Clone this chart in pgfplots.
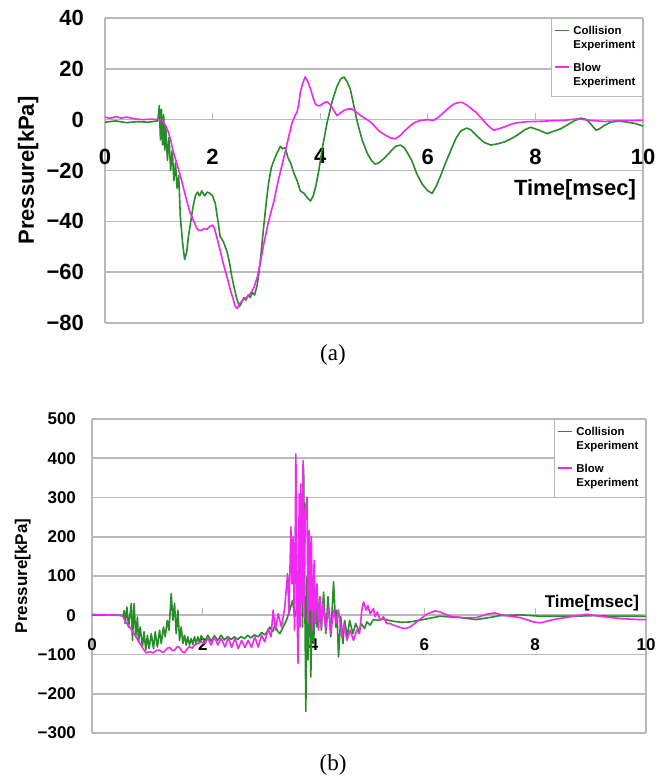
\documentclass[border=0pt]{standalone}
\usepackage{fontspec}
\setmainfont{Liberation Serif}
\newfontfamily\gsans{Liberation Sans}
\usepackage{pgfplots}
\pgfplotsset{compat=1.18}
\definecolor{colgreen}{RGB}{40,140,40}
\definecolor{colmag}{RGB}{240,40,240}
\definecolor{gridc}{RGB}{185,185,185}

% common look of both panels
\pgfplotsset{
  panel/.style={
    scale only axis,
    xmin=0, xmax=10,
    axis x line*=middle, axis y line*=box,
    hide obscured x ticks=false, hide obscured y ticks=false,
    axis line style={draw=gridc, line width=0.6pt},
    xtick={0,2,...,10}, xticklabels={0,2,4,6,8,10},
    ymajorgrids, grid style={draw=gridc, line width=0.8pt},
    tick align=inside, major tick length=3.5pt,
    xtick style={draw=gridc, line width=0.6pt}, ytick style={draw=none},
    legend style={at={(axis description cs:1,1)}, anchor=north east,
      draw=gridc, line width=0.5pt, fill=white,
      font=\gsans\bfseries\fontsize{5.7}{6.8}\selectfont,
      cells={align=left, anchor=west}, row sep=2pt,
      inner xsep=1.5pt, inner ysep=2pt},
    legend image code/.code={\draw[##1, line width=0.7pt] (0pt,4.3pt) -- (7pt,4.3pt);},
    every axis plot/.append style={line width=0.8pt, line join=round},
  },
}

\begin{document}
\begin{tikzpicture}
\fill[white] (0,0) rectangle (332.5pt,390pt);
\useasboundingbox (0,0) rectangle (332.5pt,390pt);

% ---------------- (a)
\begin{axis}[panel,
  at={(52.5pt,228.5pt)}, anchor=south west,
  width=269pt, height=152.5pt,
  ymin=-80, ymax=40,
  ytick={-80,-60,...,40}, yticklabels={−80,−60,−40,−20,0,20,40},
  tick label style={font=\gsans\bfseries\fontsize{11}{12}\selectfont},
  xticklabel style={yshift=-11pt},
  yticklabel style={xshift=-7pt},
  ylabel={Pressure[kPa]},
  ylabel style={at={(axis description cs:-0.143,0.5)}, anchor=center,
    font=\gsans\bfseries\fontsize{11}{12}\selectfont},
  xlabel={Time[msec]},
  xlabel style={at={(axis description cs:1,0.495)}, anchor=north east,
    font=\gsans\bfseries\fontsize{11}{12}\selectfont},
]
\addplot[colgreen] coordinates {
(0,-1) (0.2,-0.5) (0.4,-1.2) (0.6,-0.8) (0.8,-1) (0.98,-0.5) (1.01,5.5)
(1.03,-8) (1.05,4) (1.07,-10) (1.09,2) (1.11,-12) (1.13,-3) (1.16,-16)
(1.19,-7) (1.22,-20) (1.25,-12) (1.28,-24) (1.31,-17) (1.34,-27) (1.37,-22)
(1.40,-38) (1.44,-48) (1.48,-55) (1.52,-52) (1.55,-46) (1.58,-42) (1.63,-35)
(1.68,-30) (1.72,-28.5) (1.76,-30) (1.80,-28) (1.85,-30) (1.90,-28.5)
(1.95,-29) (2.0,-30) (2.05,-33) (2.10,-40) (2.14,-46) (2.20,-48) (2.27,-52)
(2.32,-57) (2.36,-62) (2.40,-66) (2.45,-70.5) (2.50,-73.5) (2.54,-72)
(2.58,-70) (2.62,-71) (2.66,-69) (2.70,-70) (2.74,-68) (2.78,-69) (2.83,-65)
(2.88,-57) (2.95,-42) (3.00,-32) (3.04,-25) (3.09,-19) (3.14,-16) (3.20,-13)
(3.26,-10.5) (3.30,-11.5) (3.35,-11) (3.40,-15) (3.45,-17) (3.51,-21)
(3.57,-24) (3.63,-28) (3.70,-29) (3.77,-31) (3.82,-32) (3.87,-30) (3.92,-26)
(3.97,-20.5) (4.05,-10) (4.13,-1) (4.22,7) (4.31,13) (4.38,16) (4.44,16.8)
(4.50,15) (4.56,12) (4.62,6) (4.69,-1) (4.78,-8) (4.87,-13) (4.95,-16)
(5.02,-17.5) (5.09,-17) (5.20,-15) (5.31,-12.5) (5.40,-10.5) (5.49,-10)
(5.56,-11) (5.62,-13) (5.70,-16) (5.80,-21.5) (5.90,-25.5) (6.00,-28)
(6.08,-29) (6.16,-26) (6.24,-22) (6.33,-17) (6.43,-12) (6.52,-7.5)
(6.61,-4.5) (6.72,-3.3) (6.80,-4) (6.93,-6.8) (7.05,-9) (7.17,-10)
(7.30,-9.5) (7.42,-8.8) (7.55,-7.5) (7.67,-6) (7.80,-4) (7.91,-3) (8.05,-4)
(8.22,-5.5) (8.35,-4.5) (8.47,-3.6) (8.60,-2) (8.72,-0.5) (8.84,0.6)
(8.93,0.2) (9.00,-1) (9.08,-3) (9.13,-4.2) (9.20,-3.5) (9.28,-2.3) (9.40,-1)
(9.55,-0.6) (9.71,-1) (9.85,-1.5) (10.0,-2.5)
};
\addlegendentry{Collision\\Experiment}
\addplot[colmag] coordinates {
(0,1) (0.1,0.5) (0.2,1.2) (0.3,0.6) (0.4,1) (0.55,0.3) (0.7,0) (0.85,0.2)
(1.0,0) (1.05,-0.3) (1.09,-1) (1.13,-2.5) (1.18,-5) (1.22,-8) (1.27,-12.7)
(1.33,-17) (1.40,-22) (1.46,-27) (1.52,-32) (1.58,-36.5) (1.65,-40)
(1.70,-42.5) (1.74,-43.6) (1.80,-43.5) (1.85,-42.8) (1.89,-43.2) (1.95,-42)
(2.00,-41.5) (2.03,-42.5) (2.08,-46.4) (2.14,-51.5) (2.20,-56.8) (2.27,-62)
(2.33,-67) (2.38,-70.5) (2.42,-73.5) (2.46,-74.3) (2.50,-72.5) (2.56,-71)
(2.63,-70) (2.70,-68.5) (2.77,-66) (2.83,-62) (2.89,-56) (2.95,-49)
(3.04,-40) (3.14,-32) (3.22,-24) (3.32,-15.3) (3.40,-8) (3.48,-1) (3.53,1.5)
(3.57,3) (3.60,6) (3.63,10.7) (3.67,14) (3.72,16.8) (3.77,15) (3.82,12)
(3.87,8.5) (3.91,6.2) (3.95,5.5) (4.00,5.5) (4.06,6.5) (4.13,7) (4.18,6)
(4.22,4.9) (4.27,3) (4.31,1.6) (4.37,2.5) (4.44,3.6) (4.52,4.2) (4.59,4.2)
(4.67,3) (4.75,1.6) (4.85,0.3) (4.94,-1) (5.03,-3) (5.12,-4.9) (5.22,-6.2)
(5.31,-7.2) (5.40,-7.5) (5.49,-6.2) (5.58,-4.2) (5.68,-2.3) (5.77,-1)
(5.87,-0.3) (6.00,0) (6.11,-0.3) (6.20,1) (6.30,2.9) (6.40,4.8) (6.49,6.2)
(6.58,6.8) (6.64,6.8) (6.72,5.8) (6.80,4.5) (6.90,2.8) (7.00,0.5)
(7.08,-1.5) (7.17,-3.3) (7.23,-4.2) (7.32,-3.6) (7.42,-2.9) (7.55,-1.8)
(7.67,-1.2) (7.85,-0.8) (8.04,-0.7) (8.25,-0.5) (8.53,-0.3) (8.78,0.3)
(9.03,-0.3) (9.28,-0.7) (9.50,-0.5) (9.75,-0.4) (10.0,-0.3)
};
\addlegendentry{Blow\\Experiment}
\end{axis}

% ---------------- (b)
\begin{axis}[panel,
  at={(46pt,23.5pt)}, anchor=south west,
  width=277pt, height=157pt,
  ymin=-300, ymax=500,
  ytick={-300,-200,...,500},
  yticklabels={−300,−200,−100,0,100,200,300,400,500},
  tick label style={font=\gsans\bfseries\fontsize{8.5}{10}\selectfont},
  xticklabel style={yshift=-8pt},
  yticklabel style={xshift=-4.5pt},
  ylabel={Pressure[kPa]},
  ylabel style={at={(axis description cs:-0.125,0.5)}, anchor=center,
    font=\gsans\bfseries\fontsize{8.5}{10}\selectfont},
  xlabel={Time[msec]},
  xlabel style={at={(axis description cs:1,0.462)}, anchor=north east,
    font=\gsans\bfseries\fontsize{8.5}{10}\selectfont},
]
\addplot[colgreen] coordinates {
(0,0) (0.3,1) (0.56,-1) (0.58,12) (0.60,-21) (0.63,21) (0.66,-30) (0.71,30)
(0.73,-64) (0.76,30) (0.79,-55) (0.82,-5) (0.84,-68) (0.87,-30) (0.91,-80)
(0.94,-42) (0.97,-89) (1.00,-51) (1.03,-85) (1.07,-47) (1.11,-85) (1.14,-42)
(1.18,-81) (1.22,-38) (1.25,-72) (1.29,-30) (1.32,-55) (1.36,-13) (1.39,-38)
(1.43,55) (1.46,-13) (1.49,30) (1.52,-47) (1.55,13) (1.58,-64) (1.61,-30)
(1.64,-72) (1.67,-51) (1.70,-76) (1.73,-55) (1.76,-76) (1.79,-59) (1.82,-74)
(1.85,-55) (1.88,-72) (1.91,-55) (1.94,-70) (1.97,-52) (2.03,-68) (2.09,-51)
(2.15,-66) (2.21,-52) (2.27,-64) (2.33,-51) (2.39,-63) (2.45,-54) (2.51,-62)
(2.57,-55) (2.63,-62) (2.69,-54) (2.75,-60) (2.81,-51) (2.87,-58)
(2.93,-50) (3.00,-55) (3.06,-44) (3.12,-50) (3.18,-38) (3.21,-30)
(3.26,-42) (3.30,-25) (3.35,-40) (3.39,-47) (3.45,-30) (3.51,-13) (3.57,13)
(3.62,38) (3.66,-4) (3.70,21) (3.74,10) (3.77,182) (3.80,-30) (3.82,377)
(3.86,-245) (3.88,97) (3.90,-114) (3.93,140) (3.95,-157) (3.98,97)
(4.00,-72) (4.04,64) (4.06,-30) (4.11,47) (4.14,-38) (4.18,59) (4.22,-47)
(4.26,47) (4.31,-55) (4.36,85) (4.40,-30) (4.42,13) (4.45,-106) (4.49,-4)
(4.53,-72) (4.56,-13) (4.61,-55) (4.65,-13) (4.71,-47) (4.76,-21) (4.82,-42)
(4.86,-21) (4.92,-34) (4.96,-17) (5.02,-25) (5.08,-11) (5.17,-13) (5.26,-9)
(5.35,-13) (5.47,-16) (5.60,-18) (5.74,-17) (5.98,-11) (6.28,-2.5)
(6.64,-6) (6.94,-11) (7.25,-4) (7.36,-1) (7.73,1) (8.09,-2.5) (8.45,-2.5)
(8.81,-2) (9.05,-1) (9.41,-2.5) (9.89,-2.5) (10,-3)
};
\addlegendentry{Collision\\Experiment}
\addplot[colmag] coordinates {
(0,2) (0.3,1) (0.5,0) (0.56,-2.5) (0.59,-13) (0.65,-25) (0.74,-42)
(0.83,-64) (0.92,-85) (0.98,-96) (1.04,-93) (1.10,-96) (1.16,-90)
(1.22,-89) (1.28,-95) (1.31,-92) (1.36,-84) (1.40,-82) (1.45,-90)
(1.49,-89) (1.54,-80) (1.58,-82) (1.63,-93) (1.67,-96) (1.72,-85)
(1.76,-80) (1.81,-84) (1.85,-76) (1.91,-72) (1.97,-68) (2.03,-72)
(2.09,-59) (2.15,-76) (2.21,-55) (2.27,-76) (2.33,-59) (2.40,-81)
(2.46,-57) (2.52,-82) (2.58,-59) (2.64,-85) (2.70,-64) (2.76,-82)
(2.82,-64) (2.88,-82) (2.94,-55) (3.00,-81) (3.06,-51) (3.12,-68)
(3.18,-34) (3.23,-55) (3.27,13) (3.31,-38) (3.36,4) (3.42,-30) (3.48,21)
(3.53,106) (3.555,0) (3.59,225) (3.61,80) (3.63,200) (3.655,-38) (3.68,411)
(3.70,13) (3.72,-123) (3.74,310) (3.755,-30) (3.77,335) (3.79,30) (3.81,394)
(3.83,-4) (3.85,267) (3.88,301) (3.90,-21) (3.92,216) (3.94,13) (3.96,200)
(3.98,-38) (4.01,140) (4.03,-21) (4.06,80) (4.09,-38) (4.12,47) (4.14,-30)
(4.17,30) (4.22,-38) (4.27,21) (4.31,-47) (4.36,13) (4.41,-21) (4.45,13)
(4.51,-55) (4.55,-21) (4.60,-64) (4.66,-38) (4.72,-64) (4.78,-38) (4.83,-47)
(4.87,13) (4.90,34) (4.95,13) (4.98,25) (5.02,4) (5.08,17) (5.11,-4)
(5.15,8) (5.20,-13) (5.26,-4) (5.32,-21) (5.38,-21) (5.44,-25) (5.56,-31)
(5.65,-34) (5.74,-30) (5.86,-17) (6.04,2.5) (6.19,11) (6.28,8.5)
(6.46,-2.5) (6.70,-6) (6.94,-6) (7.12,2.5) (7.27,6) (7.42,0) (7.73,-6)
(7.97,-17) (8.09,-19.5) (8.33,-11) (8.63,-4) (8.93,2.5) (9.17,-2.5)
(9.53,-8.5) (9.89,-11) (10,-11)
};
\addlegendentry{Blow\\Experiment}
\end{axis}

\node[font=\fontsize{11.5}{13}\selectfont] at (166.5pt,212.5pt) {(a)};
\node[font=\fontsize{11.5}{13}\selectfont] at (166.5pt,7.5pt) {(b)};
\end{tikzpicture}
\end{document}
